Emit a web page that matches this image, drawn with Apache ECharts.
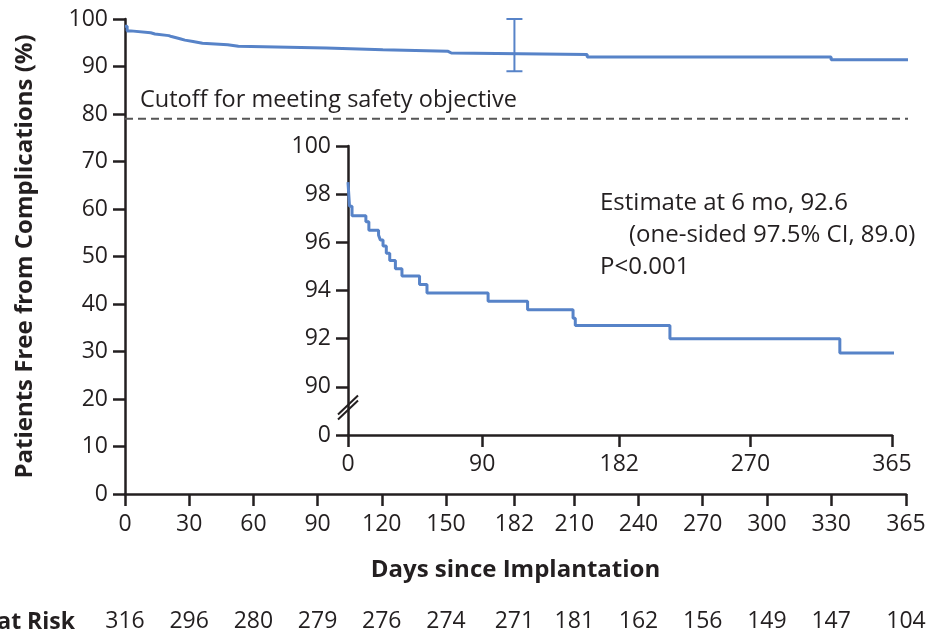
<!DOCTYPE html>
<html>
<head>
<meta charset="utf-8">
<script src="https://cdn.jsdelivr.net/npm/echarts@6/dist/echarts.min.js"></script>
<style>
  html, body { margin: 0; padding: 0; background: #fff; }
  #chart { width: 933px; height: 638px; }
</style>
</head>
<body>
<div id="chart"></div>
<script>
// ---- data ----
const eventDays = [0, 1, 2.7, 12, 14, 20.5, 21.7, 23.5, 25.7, 28, 31.8, 36.2, 48, 53, 94, 120.5, 151, 152.5, 216, 330];
const survivalPct = [98.5, 97.5, 97.1, 96.85, 96.5, 96.3, 96.1, 95.85, 95.55, 95.25, 94.9, 94.6, 94.25, 93.9, 93.55, 93.2, 92.85, 92.55, 92.0, 91.4];
const mainFollowUpEnd = 378;
const insetFollowUpEnd = 368;
const mainTicks = [0, 30, 60, 90, 120, 150, 182, 210, 240, 270, 300, 330, 365];
const atRisk = [316, 296, 280, 279, 276, 274, 271, 181, 162, 156, 149, 147, 104];
const insetTicks = [0, 90, 182, 270, 365];
const cutoffValue = 79;
const ciDay = 182;
const estimate6mo = 92.6;
const ciLower = 89.0;
const ciUpper = 100;
const insetBreakValue = 89.1;

const FONT = "'Open Sans', 'Noto Sans', sans-serif";
const INK = '#231f20';
const BLUE = '#5783c8';

function curve(endDay) {
  const pts = eventDays.map((d, i) => [d, survivalPct[i]]);
  pts.push([endDay, survivalPct[survivalPct.length - 1]]);
  return pts;
}

const chart = echarts.init(document.getElementById('chart'), null, { renderer: 'canvas' });

const axisLineStyle = { color: INK, width: 2.5 };
const tickStyle = { show: true, inside: false, length: 12, lineStyle: { color: INK, width: 2.5 } };
const labelStyle = { color: INK, fontFamily: FONT, fontSize: 23 };
const titleStyle = { color: INK, fontFamily: FONT, fontSize: 24, fontWeight: 'bold' };

const option = {
  animation: false,
  backgroundColor: '#fff',
  grid: [
    { left: 125, right: 27, top: 19, bottom: 144, containLabel: false },
    { left: 348, right: 41, top: 146, bottom: 203, containLabel: false }
  ],
  xAxis: [
    {
      gridIndex: 0, type: 'value', min: 0, max: 365, position: 'bottom',
      axisLine: { show: true, onZero: false, lineStyle: axisLineStyle },
      axisTick: Object.assign({ customValues: mainTicks }, tickStyle),
      axisLabel: Object.assign({ customValues: mainTicks, margin: 19 }, labelStyle),
      splitLine: { show: false },
      name: 'Days since Implantation', nameLocation: 'middle', nameGap: 64,
      nameTextStyle: titleStyle
    },
    {
      gridIndex: 0, type: 'value', min: 0, max: 365, position: 'bottom', offset: 97,
      axisLine: { show: false }, axisTick: { show: false },
      axisLabel: Object.assign({
        customValues: mainTicks, margin: 19,
        formatter: (v) => String(atRisk[mainTicks.indexOf(v)])
      }, labelStyle),
      splitLine: { show: false }
    },
    {
      gridIndex: 1, type: 'value', min: 0, max: 365, position: 'bottom',
      axisLine: { show: true, onZero: false, lineStyle: axisLineStyle },
      axisTick: Object.assign({ customValues: insetTicks }, tickStyle),
      axisLabel: Object.assign({ customValues: insetTicks, margin: 18 }, labelStyle),
      splitLine: { show: false }
    }
  ],
  yAxis: [
    {
      gridIndex: 0, type: 'value', min: 0, max: 100, interval: 10,
      axisLine: { show: true, onZero: false, lineStyle: axisLineStyle },
      axisTick: tickStyle,
      axisLabel: Object.assign({ margin: 17 }, labelStyle),
      splitLine: { show: false },
      name: 'Patients Free from Complications (%)', nameLocation: 'middle', nameGap: 88,
      nameTextStyle: titleStyle
    },
    {
      gridIndex: 1, type: 'value', min: 88, max: 100, interval: 2,
      axisLine: { show: true, onZero: false, lineStyle: axisLineStyle },
      axisTick: tickStyle,
      axisLabel: Object.assign({ margin: 17, formatter: (v) => (v === 88 ? '0' : String(v)) }, labelStyle),
      splitLine: { show: false }
    }
  ],
  series: [
    {
      type: 'line', xAxisIndex: 0, yAxisIndex: 0, clip: false,
      data: [[0, cutoffValue], [mainFollowUpEnd + 2, cutoffValue]],
      symbol: 'none', silent: true,
      lineStyle: { color: '#555', width: 1.8, type: [8, 5] }
    },
    {
      type: 'line', xAxisIndex: 0, yAxisIndex: 0, step: 'end', clip: false,
      data: curve(mainFollowUpEnd), symbol: 'none',
      lineStyle: { color: BLUE, width: 3 }
    },
    {
      type: 'custom', xAxisIndex: 0, yAxisIndex: 0,
      data: [[ciDay, ciLower, ciUpper, estimate6mo]],
      renderItem: function (params, api) {
        const x = api.value(0);
        const top = api.coord([x, api.value(2)]);
        const bot = api.coord([x, api.value(1)]);
        const hw = 8;
        const st = { stroke: BLUE, lineWidth: 2 };
        return {
          type: 'group', children: [
            { type: 'line', shape: { x1: top[0], y1: top[1], x2: bot[0], y2: bot[1] }, style: st },
            { type: 'line', shape: { x1: top[0] - hw, y1: top[1], x2: top[0] + hw, y2: top[1] }, style: st },
            { type: 'line', shape: { x1: bot[0] - hw, y1: bot[1], x2: bot[0] + hw, y2: bot[1] }, style: st }
          ]
        };
      }
    },
    {
      type: 'line', xAxisIndex: 2, yAxisIndex: 1, step: 'end', clip: false,
      data: curve(insetFollowUpEnd), symbol: 'none',
      lineStyle: { color: BLUE, width: 3 }
    },
    {
      type: 'custom', xAxisIndex: 2, yAxisIndex: 1, clip: false,
      data: [[0, insetBreakValue]],
      renderItem: function (params, api) {
        const c = api.coord([api.value(0), api.value(1)]);
        const st = { stroke: INK, lineWidth: 2 };
        return {
          type: 'group', children: [
            { type: 'line', shape: { x1: c[0] - 10, y1: c[1] + 6, x2: c[0] + 10, y2: c[1] - 13 }, style: st },
            { type: 'line', shape: { x1: c[0] - 10, y1: c[1] + 11, x2: c[0] + 10, y2: c[1] - 8 }, style: st }
          ]
        };
      }
    }
  ],
  graphic: [
    { type: 'text', x: 140, y: 100, style: { text: 'Cutoff for meeting safety objective', font: '23.5px ' + FONT, fill: INK, verticalAlign: 'middle' } },
    { type: 'text', x: 600, y: 203, style: { text: 'Estimate at 6 mo, 92.6', font: '24px ' + FONT, fill: INK, verticalAlign: 'middle' } },
    { type: 'text', x: 629, y: 235, style: { text: '(one-sided 97.5% CI, 89.0)', font: '24px ' + FONT, fill: INK, verticalAlign: 'middle' } },
    { type: 'text', x: 600, y: 267, style: { text: 'P<0.001', font: '24px ' + FONT, fill: INK, verticalAlign: 'middle' } },
    { type: 'text', x: 75, y: 622, style: { text: 'at Risk', font: 'bold 23px ' + FONT, fill: INK, align: 'right', verticalAlign: 'middle' } }
  ]
};

chart.setOption(option);
</script>
</body>
</html>
